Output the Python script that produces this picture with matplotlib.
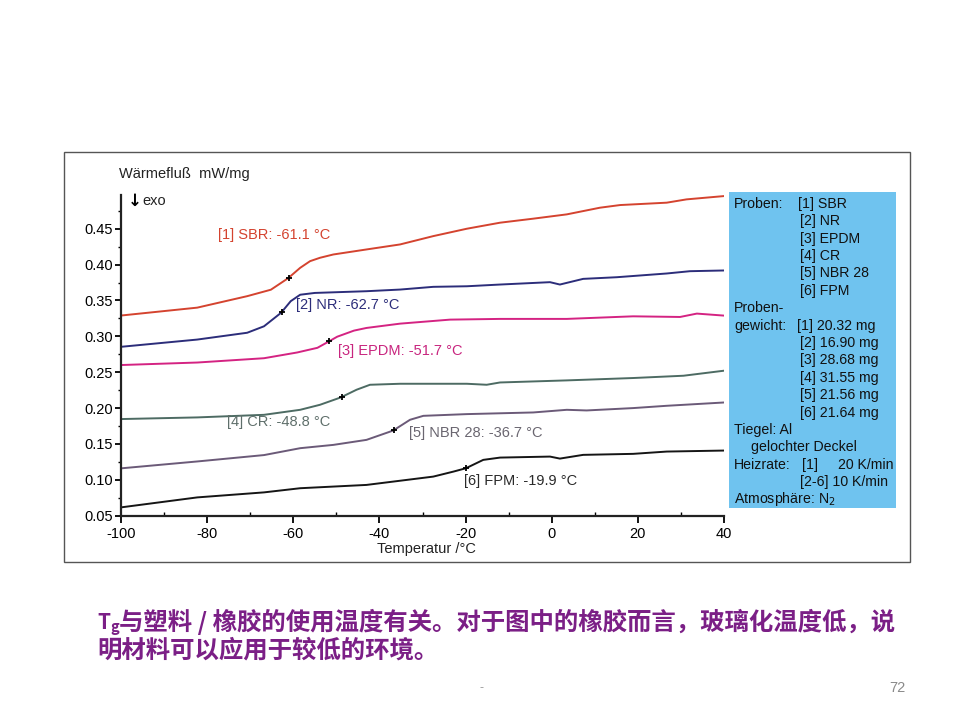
import numpy as np
import matplotlib
matplotlib.use("Agg")
import matplotlib.pyplot as plt
from matplotlib.patches import Rectangle
from matplotlib.ticker import MultipleLocator, FormatStrFormatter

plt.rcParams['font.family'] = ['Liberation Sans', 'DejaVu Sans']

# DSC curves (temperature in degC, heat flow in mW/mg)
sbr_t = [-100, -82.3, -70.7, -65.2, -61.2, -58.4, -56.1, -53.8, -50.7, -43.0, -35.2, -27.5,
         -19.7, -12.0, -4.3, 3.5, 11.2, 15.9, 26.7, 31.3, 40]
sbr_v = [0.329, 0.340, 0.356, 0.365, 0.381, 0.3955, 0.4048, 0.4095, 0.4141, 0.4211, 0.4281, 0.4397,
         0.4500, 0.4584, 0.4640, 0.4700, 0.4793, 0.4830, 0.4863, 0.4909, 0.4955]

nr_t = [-100, -82.3, -70.7, -66.8, -62.8, -60.6, -58.4, -55, -43.0, -35.2, -27.5, -19.7, -12.0,
        -0.4, 1.9, 7.3, 15.1, 26.7, 32.1, 40]
nr_v = [0.2854, 0.2955, 0.305, 0.314, 0.333, 0.349, 0.358, 0.3605, 0.3629, 0.3652, 0.3690, 0.3698, 0.3722,
        0.3755, 0.3722, 0.3801, 0.3824, 0.3876, 0.3908, 0.3918]

epdm_t = [-100, -82.3, -66.8, -59.1, -54.4, -51.7, -49.8, -45.9, -43.0, -35.2, -23.6, -12, 3.5,
          18.9, 29.8, 33.7, 40]
epdm_v = [0.260, 0.2635, 0.2695, 0.2775, 0.284, 0.293, 0.2995, 0.308, 0.3117, 0.3177, 0.3233, 0.3243, 0.3243,
          0.3279, 0.327, 0.3317, 0.3289]

cr_t = [-100, -82.3, -66.8, -58.4, -53.8, -49.0, -45.3, -42.2, -35.2, -19.7, -15.1, -12, 3.5, 18.9, 30.6, 40]
cr_v = [0.1847, 0.187, 0.1906, 0.1976, 0.2046, 0.2148, 0.2256, 0.2325, 0.2339, 0.2339, 0.2325, 0.2357,
        0.2386, 0.2419, 0.2451, 0.2521]

nbr_t = [-100, -82.3, -66.8, -58.4, -50.7, -43.0, -36.8, -32.9, -29.8, -19.7, -4.3, 3.5, 8.1, 18.9, 26.7, 40]
nbr_v = [0.116, 0.1256, 0.1345, 0.1441, 0.1487, 0.1557, 0.1687, 0.1837, 0.1892, 0.1916, 0.1939, 0.1976,
         0.1967, 0.2000, 0.2032, 0.2078]

fpm_t = [-100, -82.3, -66.8, -58.4, -43.0, -27.5, -22.8, -19.9, -15.9, -12, -0.4, 1.9, 7.3, 18.9, 26.7, 40]
fpm_v = [0.0616, 0.0755, 0.0825, 0.0883, 0.0929, 0.1045, 0.1115, 0.1162, 0.1278, 0.1310, 0.1324, 0.1296,
         0.1348, 0.1362, 0.1394, 0.1408]

tg_values = [-61.1, -62.7, -51.7, -48.8, -36.7, -19.9]
labels = ["[1] SBR: -61.1 °C", "[2] NR: -62.7 °C", "[3] EPDM: -51.7 °C",
          "[4] CR: -48.8 °C", "[5] NBR 28: -36.7 °C", "[6] FPM: -19.9 °C"]
label_pos = [(-77.5, 0.4406), (-59.4, 0.343), (-49.6, 0.280),
             (-75.4, 0.181), (-33.1, 0.1655), (-20.4, 0.0985)]
colors = ['#d4432f', '#2c2d7a', '#d42382', '#4d6b63', '#6b5a78', '#151515']
label_colors = ['#d4432f', '#2c2d7a', '#c8257f', '#5f6f6b', '#6a6670', '#2a2a2a']

curves = [(sbr_t, sbr_v), (nr_t, nr_v), (epdm_t, epdm_v),
          (cr_t, cr_v), (nbr_t, nbr_v), (fpm_t, fpm_v)]

info = [
    [(734, "Proben:"), (798, "[1] SBR")],
    [(800, "[2] NR")],
    [(800, "[3] EPDM")],
    [(800, "[4] CR")],
    [(800, "[5] NBR 28")],
    [(800, "[6] FPM")],
    [(734, "Proben-")],
    [(734, "gewicht:"), (797, "[1] 20.32 mg")],
    [(800, "[2] 16.90 mg")],
    [(800, "[3] 28.68 mg")],
    [(800, "[4] 31.55 mg")],
    [(800, "[5] 21.56 mg")],
    [(800, "[6] 21.64 mg")],
    [(734, "Tiegel: Al")],
    [(751, "gelochter Deckel")],
    [(734, "Heizrate:"), (802, "[1]")],
    [(800, "[2-6] 10 K/min")],
    [(734, "Atmosphäre: N$_2$")],
]

W, H = 960, 720
fig = plt.figure(figsize=(9.6, 7.2), dpi=100)

def fx(px):
    return px / W

def fy(py):
    return 1 - py / H

# outer frame of the picture
fig.patches.append(Rectangle((fx(64), fy(562)), fx(910) - fx(64), fy(152) - fy(562),
                             transform=fig.transFigure, fill=False, ec='#555555', lw=1.0))

ax = fig.add_axes([fx(121), fy(515.7), fx(724) - fx(121), fy(195) - fy(515.7)])
for (t, v), c in zip(curves, colors):
    ax.plot(t, v, color=c, lw=1.4)
for (t, v), tg in zip(curves, tg_values):
    ax.plot(tg, np.interp(tg, t, v), marker='+', color='black', ms=5, mew=1.3)
for lab, (lx, ly), c in zip(labels, label_pos, label_colors):
    ax.text(lx, ly, lab, color=c, fontsize=10.5, ha='left', va='center')

ax.set_xlim(-100, 40)
ax.set_ylim(0.05, 0.497)
for s in ['top', 'right']:
    ax.spines[s].set_visible(False)
for s in ['left', 'bottom']:
    ax.spines[s].set_linewidth(1.6)
    ax.spines[s].set_color('#222222')
ax.xaxis.set_major_locator(MultipleLocator(20))
ax.xaxis.set_minor_locator(MultipleLocator(10))
ax.yaxis.set_major_locator(MultipleLocator(0.05))
ax.yaxis.set_minor_locator(MultipleLocator(0.025))
ax.yaxis.set_major_formatter(FormatStrFormatter('%.2f'))
ax.xaxis.set_major_formatter(FormatStrFormatter('%d'))
ax.tick_params(axis='x', which='major', direction='out', length=5, width=1.3, labelsize=10.5, pad=3)
ax.tick_params(axis='x', which='minor', direction='in', length=3, width=1.0)
ax.tick_params(axis='y', which='major', direction='out', length=4, width=1.3, labelsize=10.5, pad=2)
ax.tick_params(axis='y', which='minor', direction='out', length=2.5, width=1.0)

fig.text(fx(119), fy(174), "Wärmefluß  mW/mg", fontsize=10.5, ha='left', va='center', color='#222222')
fig.text(fx(128), fy(201), "↓", fontsize=12, ha='left', va='center', color='black',
         family='DejaVu Sans', weight='bold')
fig.text(fx(142), fy(201), "exo", fontsize=10.5, ha='left', va='center', color='#222222')
fig.text(fx(426), fy(549), "Temperatur /°C", fontsize=10.5, ha='center', va='center', color='#222222')

# info box
fig.patches.append(Rectangle((fx(729), fy(508)), fx(896) - fx(729), fy(192) - fy(508),
                             transform=fig.transFigure, color='#6fc3ef', lw=0))
for i, row in enumerate(info):
    py = 203.7 + i * 17.4
    for px, txt in row:
        fig.text(fx(px), fy(py), txt, fontsize=10.2, ha='left', va='center', color='#111111')
fig.text(fx(893), fy(203.7 + 15 * 17.4), "20 K/min", fontsize=10.2, ha='right', va='center', color='#111111')

# caption below the chart
cjk = ['Noto Sans CJK SC', 'DejaVu Sans']
purple = '#7b1f86'
fig.text(fx(97), fy(625), r"T$_\mathregular{g}$", fontsize=15, ha='left', va='center',
         color=purple, weight='bold', family=cjk)
fig.text(fx(119), fy(622), "与塑料 / 橡胶的使用温度有关。对于图中的橡胶而言，玻璃化温度低，说",
         fontsize=17.6, ha='left', va='center', color=purple, family=cjk, weight='bold')
fig.text(fx(97), fy(651), "明材料可以应用于较低的环境。",
         fontsize=17.6, ha='left', va='center', color=purple, family=cjk, weight='bold')
fig.text(fx(481), fy(688), "-", fontsize=9, ha='center', va='center', color='#999999')
fig.text(fx(906), fy(688), "72", fontsize=10.5, ha='right', va='center', color='#8a8a8a')

fig.savefig("out.png", dpi=100)
